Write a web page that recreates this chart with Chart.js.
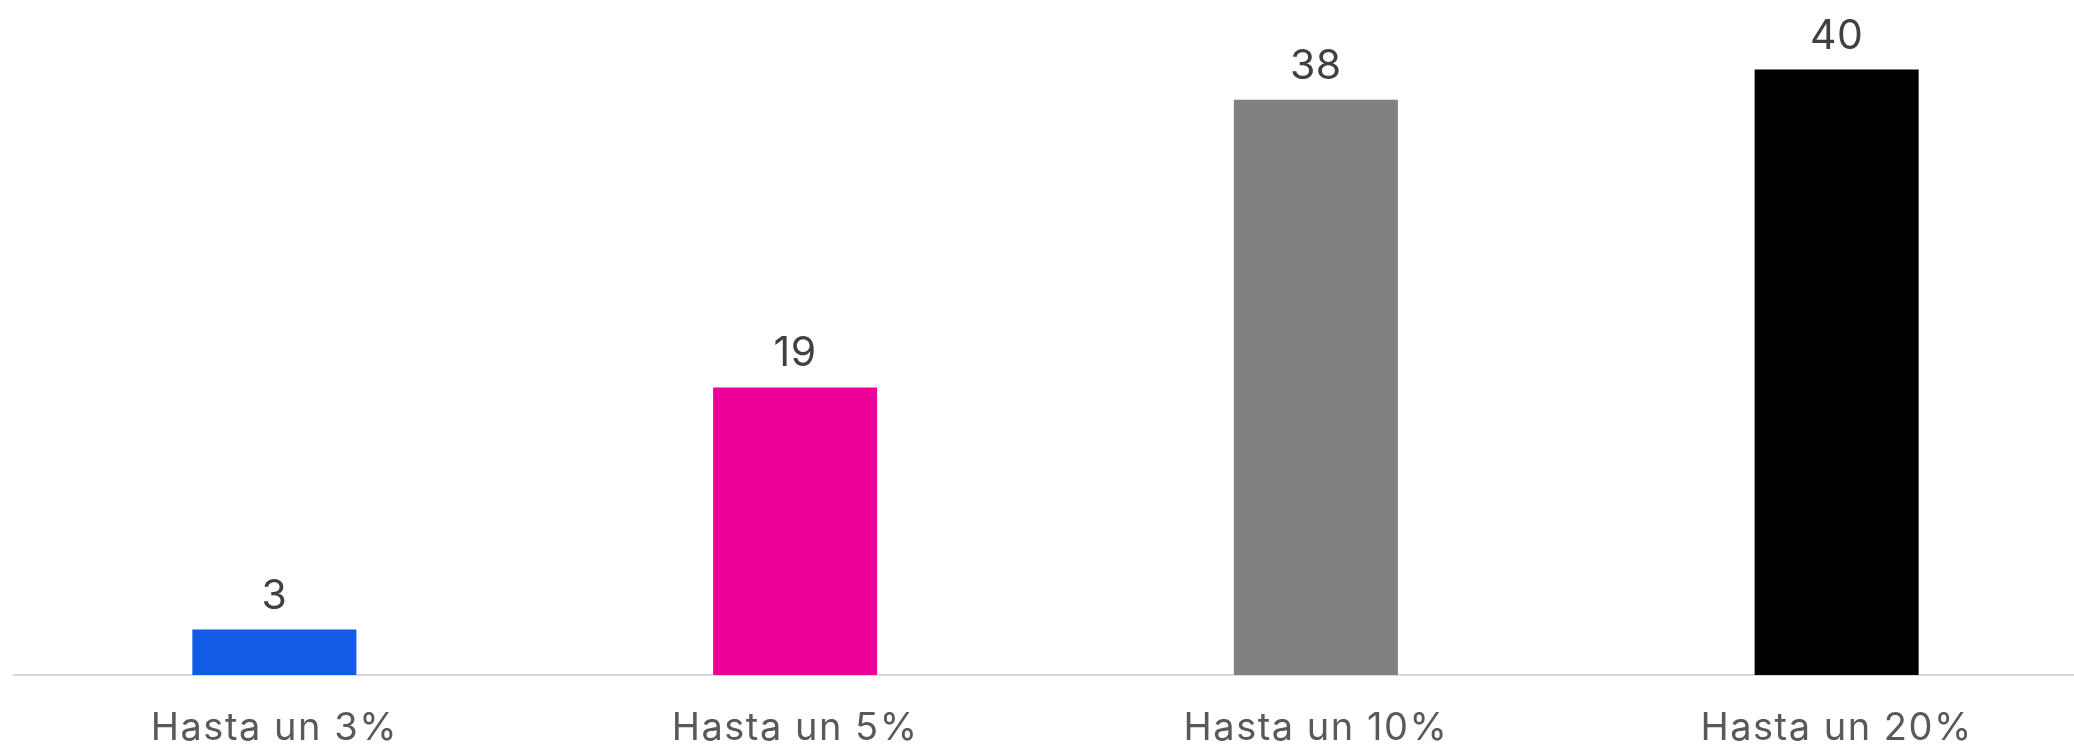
<!DOCTYPE html>
<html>
<head>
<meta charset="utf-8">
<script src="https://cdn.jsdelivr.net/npm/chart.js@4.4.1/dist/chart.umd.min.js"></script>
<style>
  html, body { margin:0; padding:0; background:#fff; overflow:hidden; }
  #wrap { width:2097px; height:746px; position:relative; }
</style>
</head>
<body>
<div id="wrap"><canvas id="chart"></canvas></div>
<script>
  // data
  const categories = ['Hasta un 3%', 'Hasta un 5%', 'Hasta un 10%', 'Hasta un 20%'];
  const values = [3, 19, 38, 40];
  const barColors = ['#115be5', '#ec0099', '#808080', '#000000'];

  const FONT = 'Inter, "Open Sans", sans-serif';

  // a bit of tracking for the category labels
  const tracking = {
    id: 'tracking',
    beforeDraw(chart) { chart.ctx.letterSpacing = '1.5px'; }
  };

  // value labels above bars
  const valueLabels = {
    id: 'valueLabels',
    afterDatasetsDraw(chart) {
      const ctx = chart.ctx;
      const meta = chart.getDatasetMeta(0);
      ctx.save();
      ctx.letterSpacing = '0.5px';
      ctx.font = '400 41px ' + FONT;
      ctx.fillStyle = '#404040';
      ctx.textAlign = 'center';
      ctx.textBaseline = 'alphabetic';
      meta.data.forEach((bar, i) => {
        ctx.fillText(String(values[i]), bar.x, bar.y - 21);
      });
      ctx.restore();
    }
  };

  new Chart(document.getElementById('chart'), {
    type: 'bar',
    data: {
      labels: categories,
      datasets: [{ data: values, backgroundColor: barColors, borderWidth: 0,
                   categoryPercentage: 1, barPercentage: 0.315 }]
    },
    options: {
      responsive: true, maintainAspectRatio: false, animation: false,
      layout: { padding: { left: 14, right: 0, top: 9, bottom: 0 } },
      plugins: { legend: { display:false }, tooltip: { enabled:false } },
      scales: {
        x: {
          grid: { display: true, drawOnChartArea: false, drawTicks: false },
          border: { display: true, color: '#d9d9d9', width: 2 },
          ticks: { color: '#595959', font: { family: FONT, size: 38 }, padding: 31, maxRotation: 0, autoSkip: false },
          afterFit: s => { s.height = 71; }
        },
        y: { display: false, min: 0, max: 44 }
      }
    },
    plugins: [tracking, valueLabels]
  });
</script>
</body>
</html>
